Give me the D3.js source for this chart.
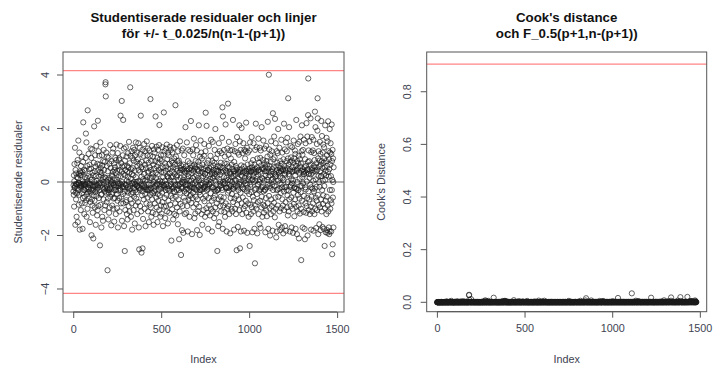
<!DOCTYPE html>
<html>
<head>
<meta charset="utf-8">
<script src="https://cdn.jsdelivr.net/npm/d3@7"></script>
<style>
  body { margin: 0; background: #fff; }
  text { font-family: "Liberation Sans", Arial, sans-serif; }
</style>
</head>
<body>
<svg id="chart" width="713" height="367"></svg>
<script>
// studentized residuals, in hundredths, index 1..1480 (20 per row)
var residHundredths = [
-35,-12,-48,25,-92,3,67,-22,-20,128,-15,-160,45,-40,-8,-65,32,-8,-130,18,
-42,-10,70,-25,82,-150,15,-30,155,-3,-5,-85,30,-48,110,-5,-178,25,40,-12,
35,-20,-105,60,-15,-10,25,-80,95,-42,-8,38,-175,2,-60,75,223,-30,-18,-5,
-12,45,-120,-30,-55,18,-78,-8,42,-10,90,181,-25,-68,148,-130,15,0,-45,60,
-100,268,-5,-38,22,-20,105,-62,-28,-7,48,-35,65,-5,-150,-12,18,-75,125,-40,
50,-28,90,-199,8,-65,-10,122,-88,35,-115,-15,-30,-211,25,-50,72,-18,208,0,
-70,40,-95,100,-15,-38,58,-160,22,-10,135,-52,-30,5,-25,-125,68,-12,-105,229,
-20,45,-90,115,-5,-60,20,98,-30,65,-3,-237,38,148,-85,-5,52,-48,25,-170,
35,-45,100,-10,-130,62,-22,15,-145,78,0,-65,120,-28,-8,45,-105,18,75,-35,
-22,-88,365,373,320,15,-40,110,2,-75,60,-18,95,-30,-330,-25,40,-62,8,-140,
90,-40,-30,-115,15,68,-95,-20,-25,138,-55,3,52,-10,-5,-162,78,0,-45,25,
-88,22,110,-40,38,-5,125,-100,-10,-62,70,-12,-148,45,-30,15,-60,55,90,-20,
35,-120,-30,82,-15,140,-45,8,-98,42,-5,-70,108,-170,18,-32,-5,60,-15,82,
-60,88,-110,-5,45,-25,135,-30,248,22,-80,-10,70,-55,38,303,-145,0,58,-20,
-15,100,-45,232,-80,30,-20,125,-165,-8,60,-35,-258,80,25,-105,45,-10,130,-75,
-12,-68,95,5,-120,38,60,-35,-140,-20,18,108,-40,55,-90,0,150,-28,35,-110,
70,-25,-15,354,-65,98,12,-130,48,-45,115,-80,-5,30,-178,90,-5,52,-22,128,
-40,25,-105,80,0,-55,120,-22,42,-155,-8,100,-30,-10,-88,148,18,-62,75,0,
-38,110,-15,-120,60,-15,85,-75,3,145,-18,45,-170,-22,-252,68,-30,128,2,-90,
38,-25,105,248,-10,-110,55,-264,20,75,-50,-15,120,-248,-35,48,-138,10,98,-10,
-65,30,142,-15,-20,-100,65,5,-45,115,-165,-28,52,-20,80,-80,8,152,-30,18,
100,-58,-25,125,-110,35,-30,72,40,-150,-10,118,-28,55,-85,15,98,-48,310,-22,
-95,45,-10,-130,78,15,-40,135,-65,32,-8,-115,95,20,-42,65,-160,0,122,-20,
50,-35,110,-80,-15,78,-30,245,-120,35,15,-58,132,-10,-95,58,-8,90,-150,28,
-45,120,2,-70,72,-30,45,138,-105,213,-8,-50,85,5,-130,52,-18,-88,100,-25,
38,-118,78,0,-40,130,-75,-12,55,-165,18,102,-12,35,260,-92,-20,-15,115,-60,
5,70,-135,42,-30,125,-10,-90,58,-8,-48,140,-110,22,85,-25,20,-155,48,110,
-70,15,100,-32,-15,-115,68,32,-28,132,-85,5,50,-52,120,-8,18,-219,78,-18,
40,-102,110,-25,-60,72,20,-140,55,-20,128,-35,2,88,-120,30,-38,65,-12,-80,
287,-10,-55,95,-125,50,20,-30,138,-95,25,78,-10,42,-158,115,8,-65,-15,80,
-30,-214,70,35,-110,-8,152,-40,52,-82,15,45,-273,-18,60,-25,118,-180,0,45,
-90,-22,125,-5,65,-190,8,48,-58,18,100,-35,40,-120,35,0,-70,205,-12,-28,
58,-115,-10,42,-42,148,12,-90,48,-25,-185,78,-10,120,22,-68,35,48,-30,5,
-130,70,-15,-52,115,-20,52,-48,228,5,-78,32,45,-20,-195,60,-8,-60,122,15,
-40,100,-95,42,-20,162,-25,65,-135,20,50,-5,55,-118,-28,78,-55,138,2,-82,
25,-30,118,-180,48,-10,-65,45,15,-110,75,-18,40,212,-92,5,-38,62,-198,-30,
95,-48,-10,155,-30,52,-10,110,15,-120,38,88,-28,-160,65,-5,35,-62,22,-20,
-105,48,98,-18,142,-72,-25,32,-130,30,-15,115,259,-52,0,58,-98,210,8,-30,
70,-115,-18,45,-25,45,-175,80,5,-60,135,-8,-88,52,-10,40,-125,28,12,98,
-42,0,158,-100,55,-20,-70,30,-185,35,78,-20,150,-110,15,62,-20,45,-60,22,
-135,72,-28,120,-50,30,-95,198,2,-35,88,-118,48,-10,42,-80,20,-30,-258,58,
105,-30,42,-165,38,-25,-65,145,10,-150,60,-15,115,28,-90,0,55,-55,72,-12,
-110,38,108,-70,-22,165,-30,279,52,-175,245,0,-88,40,-8,-58,120,18,-112,70,
-5,95,-130,45,5,215,-80,-22,-20,40,15,-185,68,35,-100,125,-22,58,-40,293,
8,-90,102,-32,150,-20,-120,55,38,-10,32,-192,118,5,-60,88,-15,30,-100,18,
65,-45,0,120,-110,48,-25,232,-75,22,40,-25,-18,-178,75,40,-62,115,8,-100,
30,142,-15,60,-120,5,45,-52,-255,52,168,-85,-15,-20,110,-168,38,32,-30,12,
-65,102,-8,212,-105,45,152,-248,0,38,-40,120,-185,25,62,-10,202,-80,22,50,
-120,-20,108,-58,35,-25,145,-100,2,58,-182,38,120,-28,15,-90,88,42,-5,115,
-70,5,222,-115,32,40,-35,128,-190,-10,65,-22,110,-80,48,12,-130,42,20,-45,
118,25,-239,52,148,-85,-18,-10,40,-120,40,70,-38,168,-95,8,55,-188,45,10,
-55,82,22,-110,145,0,-68,45,35,-175,65,-30,-304,120,5,-88,48,218,-25,38,
-100,20,130,-45,55,-192,88,-10,-75,42,28,-10,162,-120,45,72,-32,0,-158,128,
10,-70,90,38,-172,118,-28,62,-20,-95,205,-55,15,48,-130,52,12,-18,82,-85,
155,-35,48,-115,70,5,125,-90,-28,-30,40,-188,55,25,-60,135,-105,40,78,-20,
-128,65,8,95,-80,225,-10,50,-175,18,38,401,-52,122,-15,-98,60,25,-200,102,
-22,75,-120,38,152,-65,8,115,-90,48,-10,40,-182,12,257,-30,85,-110,55,0,
-78,170,32,-15,92,-132,236,20,-58,28,145,-100,22,-207,58,-30,115,-185,45,72,
-28,108,-88,5,198,-55,62,-160,35,38,-25,128,-110,-5,52,-180,78,15,-42,40,
-98,42,158,-10,68,-170,-20,110,-65,15,45,-88,48,-192,85,8,-35,218,-105,32,
60,-20,122,-165,28,45,-75,40,148,-182,-18,78,-30,115,-95,52,165,-50,0,-125,
88,313,-32,65,-110,30,205,-65,22,42,-185,48,75,-18,135,-90,-12,92,-58,10,
-170,80,38,-5,130,-100,55,40,-190,5,72,-40,155,-82,-22,88,-128,45,-20,118,
-65,25,105,-175,60,-25,-92,232,40,-25,45,-195,78,0,-110,50,142,-48,70,-30,
98,-88,-211,35,150,-62,12,85,-118,58,-15,170,-38,70,-100,-292,42,115,-15,212,
-70,18,102,-170,48,120,-5,38,-112,30,158,-52,28,40,-175,55,-214,85,-20,-80,
145,-28,60,-115,35,220,-90,2,45,-60,170,-200,48,75,250,387,-35,118,-105,30,
78,-65,152,15,-120,40,-10,65,238,-92,28,-178,112,-20,-55,168,52,-110,45,-25,
35,118,-80,5,158,-182,60,-35,108,42,-120,82,-25,263,-100,55,205,-58,10,40,
-172,70,-18,-70,142,-105,45,192,313,238,-48,88,-195,22,115,-85,58,0,-158,80,
-18,150,-95,40,105,-180,65,22,-65,228,22,-110,78,172,-30,52,-168,110,5,-82,
140,-50,72,-175,30,130,-15,88,-239,55,-98,212,8,-70,42,-188,78,25,-120,165,
-55,100,-180,60,-190,152,-88,38,227,-110,115,20,-170,85,-195,48,-185,198,-30,110,
-100,65,145,-68,22,-185,105,-80,215,-30,78,-270,8,120,-233,-58,88,0,-170,55
];

// Cook's distance, in units of 1e-4, same order
var cookTenThousandths = [
1,0,4,1,8,0,3,2,0,9,0,15,4,1,1,5,2,0,9,0,
2,1,7,0,4,18,0,3,5,1,0,7,2,1,11,0,4,0,3,13,
1,0,15,5,3,0,2,7,9,1,0,4,19,0,2,6,36,1,1,5,
0,2,11,1,2,8,4,0,1,6,13,18,0,3,4,20,0,2,1,6,
9,55,0,2,3,0,10,5,0,14,1,1,5,0,8,2,0,3,13,1,
4,0,8,24,1,2,0,11,4,2,12,0,3,30,0,2,7,5,32,0,
3,1,9,9,0,1,4,14,2,0,15,4,1,6,2,17,3,0,6,38,
0,3,11,7,1,5,0,11,2,5,1,42,2,12,7,0,4,1,9,16,
1,3,14,0,9,5,0,2,19,8,0,2,11,0,5,3,13,1,6,1,
2,8,270,285,95,0,4,9,1,12,5,0,13,2,120,0,7,5,3,16,
8,1,4,13,0,11,5,2,0,16,9,1,5,3,0,18,8,2,1,12,
4,0,9,7,3,0,13,11,1,2,6,0,18,4,1,12,6,2,8,0,
3,13,1,7,4,14,1,0,9,5,1,3,11,20,0,2,6,13,0,4,
2,8,11,1,5,0,15,5,48,2,8,0,11,2,3,75,15,1,7,4,
0,9,1,40,7,3,0,13,19,1,5,2,55,8,0,10,4,0,14,3,
1,5,10,0,13,3,7,1,16,2,0,12,4,5,8,1,16,2,3,11,
6,0,2,175,5,9,0,14,4,1,12,7,1,3,19,8,0,5,3,14,
1,2,10,7,0,4,13,0,4,17,1,9,2,0,8,16,1,5,7,0,
3,11,2,13,5,0,9,6,1,17,1,4,20,2,50,7,1,14,0,8,
3,2,10,48,1,11,5,56,2,7,4,0,13,50,1,4,16,1,9,0,
5,3,15,1,0,9,6,1,3,12,19,2,5,0,8,7,0,16,2,1,
9,4,0,13,11,2,1,7,4,16,1,12,2,5,7,0,11,4,80,2,
9,4,0,14,8,1,1,15,5,3,0,12,10,2,3,6,18,1,13,0,
5,2,11,7,2,8,1,46,13,3,0,4,15,1,9,5,0,9,16,3,
1,13,0,6,7,2,4,16,10,34,1,4,9,0,14,5,2,8,11,0,
3,12,8,1,3,14,6,2,5,19,0,10,1,3,52,8,2,0,12,5,
1,7,15,4,1,13,0,8,5,1,4,16,11,2,9,2,0,17,4,11,
6,1,9,2,0,12,7,3,0,15,7,1,5,4,13,0,2,33,8,1,
4,10,11,0,5,7,2,16,5,0,14,2,1,9,13,3,1,6,0,7,
65,1,4,10,13,5,0,2,16,9,2,8,1,4,18,12,0,5,2,8,
1,34,7,3,11,1,14,3,5,7,0,10,60,2,6,2,12,14,0,4,
8,2,13,1,6,18,1,9,4,0,11,2,4,13,7,1,6,16,2,0,
5,12,1,10,3,14,0,8,4,2,19,8,1,13,0,5,3,11,2,0,
14,7,2,4,12,0,5,11,16,1,7,3,9,1,17,6,1,5,13,0,
3,9,9,4,0,15,2,6,15,2,11,1,5,12,0,8,4,16,1,7,
2,1,12,16,4,0,5,10,2,11,7,0,4,14,8,1,3,6,19,1,
9,4,1,15,7,5,1,11,0,13,3,8,2,18,6,1,13,5,2,0,
10,4,9,1,16,6,0,7,14,3,0,12,55,4,1,5,9,14,0,2,
7,12,2,10,0,4,17,8,1,5,15,1,8,5,1,13,13,3,0,9,
3,1,14,9,5,0,6,11,19,3,8,1,16,11,2,6,0,10,5,2,
15,7,0,13,4,3,9,15,1,1,9,12,4,0,11,7,2,1,58,5,
10,2,4,13,8,0,5,14,1,16,6,0,12,3,8,1,13,4,7,1,
11,3,11,6,0,16,2,70,5,17,155,1,8,9,0,4,13,2,11,7,
1,9,14,4,1,16,7,2,1,11,0,19,7,3,9,13,0,5,3,70,
1,8,10,2,15,0,13,5,8,1,3,16,12,1,5,9,0,14,9,2,
6,3,1,13,11,4,0,16,6,2,9,2,0,18,7,4,5,12,0,9,
3,14,1,6,13,1,9,4,52,5,16,7,2,0,11,16,3,7,2,0,
5,10,1,34,10,4,14,50,1,8,3,13,19,2,6,1,17,7,0,5,
13,2,11,4,7,0,15,9,1,5,16,3,13,2,0,8,9,4,1,12,
6,1,16,12,3,8,2,14,18,1,6,0,11,7,4,0,14,10,2,3,
12,0,45,5,15,7,2,1,9,13,4,7,3,16,9,1,5,19,12,0,
4,8,2,11,13,1,5,10,3,15,6,1,165,13,1,8,4,16,2,8,
9,0,14,3,5,18,9,1,6,11,3,1,17,13,4,7,2,1,11,14,
1,6,9,3,16,12,0,6,2,9,15,4,0,11,14,5,2,1,8,7,
16,2,4,12,7,1,13,8,3,1,11,18,5,0,5,15,10,4,8,1,
14,6,1,10,7,16,1,5,15,2,9,340,4,13,0,9,6,2,19,11,
0,7,13,3,16,5,1,12,8,4,0,14,16,2,60,2,9,11,5,1,
7,13,3,1,10,15,45,0,4,8,16,9,2,30,5,1,12,17,4,7,
2,11,8,1,15,4,6,13,3,9,0,14,11,1,5,16,8,2,3,13,
9,4,16,1,7,14,2,11,5,0,13,8,4,18,9,1,2,16,10,3,
6,1,13,12,0,10,6,4,15,16,2,8,1,12,9,5,16,4,1,13,
9,175,2,6,11,3,14,5,0,11,17,4,7,1,15,8,2,10,4,0,
13,8,3,1,14,9,5,11,18,1,7,3,16,7,2,9,14,4,0,12,
5,2,10,15,6,0,8,15,4,2,12,19,8,1,11,5,13,3,7,1,
11,8,35,3,16,5,2,9,12,5,0,14,3,7,9,75,4,12,1,16,
6,2,10,14,4,13,1,8,11,3,15,4,0,11,17,5,38,9,2,7,
13,2,6,12,3,16,8,1,10,5,14,18,4,7,60,185,2,12,10,1,
8,5,15,2,13,9,1,6,16,8,3,16,11,0,4,14,5,11,9,2,
3,12,7,1,16,16,6,2,11,4,13,8,0,65,9,5,15,4,1,11,
15,7,2,6,13,10,4,16,195,50,3,9,19,2,12,7,5,1,12,8,
1,16,9,4,10,16,6,0,5,14,2,11,8,17,2,5,14,11,1,7,
13,4,7,15,3,14,1,9,205,5,9,16,1,6,11,18,8,2,13,13,
4,9,16,6,45,15,8,3,40,11,12,0,14,9,48,4,19,16,2,11,
9,6,13,5,2,17,10,7,16,2,8,70,1,13,50,4,9,1,14,5
];

var residTicks = [-4, -2, 0, 2, 4];
var cookTicks = [0, 0.2, 0.4, 0.6, 0.8];
var indexTicks = [0, 500, 1000, 1500];
var tCrit = 4.16;      // +/- t_0.025/n(n-1-(p+1))
var fCrit = 0.905;     // F_0.5(p+1, n-(p+1))

var resid = residHundredths.map(function (v, i) { return { i: i + 1, v: v / 100 }; });
var cook = cookTenThousandths.map(function (v, i) { return { i: i + 1, v: v / 10000 }; });

var svg = d3.select('#chart');
var ink = '#3d4250';
var n = resid.length;
var pad = (n - 1) * 0.04;

function panel(opts) {
  var g = svg.append('g');
  var x = d3.scaleLinear().domain([1 - pad, n + pad]).range([opts.left, opts.right]);
  var y = d3.scaleLinear().domain(opts.ydomain).range([opts.bottom, opts.top]);

  // axes, R style: ticks outside, line only between first and last tick
  var xa = g.append('g').attr('transform', 'translate(0,' + opts.bottom + ')')
    .call(d3.axisBottom(x).tickValues(indexTicks).tickSize(6).tickPadding(7).tickFormat(d3.format('d')));
  var ya = g.append('g').attr('transform', 'translate(' + opts.left + ',0)')
    .call(d3.axisLeft(y).tickValues(opts.yticks).tickSize(6).tickFormat(opts.yfmt));
  [xa, ya].forEach(function (a) {
    a.select('.domain').remove();
    a.selectAll('line').attr('stroke', '#555');
    a.selectAll('text').attr('fill', ink).style('font-size', '10.8px')
      .style('font-family', '"Liberation Sans", Arial, sans-serif');
  });
  ya.selectAll('text')
    .attr('x', null).attr('dy', null)
    .attr('text-anchor', 'middle')
    .attr('transform', function (d) { return 'translate(' + (opts.ytickx - opts.left) + ',' + y(d) + ') rotate(-90)'; })
    .attr('y', 0).attr('dy', '0.35em');
  ya.selectAll('.tick').attr('transform', null);
  ya.selectAll('.tick line').attr('y1', function (d) { return y(d); }).attr('y2', function (d) { return y(d); });

  g.append('line')
    .attr('x1', x(indexTicks[0])).attr('x2', x(indexTicks[indexTicks.length - 1]))
    .attr('y1', opts.bottom).attr('y2', opts.bottom).attr('stroke', '#555');

  // reference lines
  opts.hlines.forEach(function (h) {
    g.append('line').attr('x1', opts.left).attr('x2', opts.right)
      .attr('y1', y(h.v)).attr('y2', y(h.v))
      .attr('stroke', h.color).attr('stroke-width', h.w);
  });

  // points
  g.append('g').selectAll('circle')
    .data(opts.data)
    .enter()
    .append('circle')
    .attr('cx', function (d) { return x(d.i); })
    .attr('cy', function (d) { return y(d.v); })
    .attr('r', 2.6)
    .attr('fill', 'none')
    .attr('stroke', '#1a1a1a')
    .attr('stroke-opacity', 0.8)
    .attr('stroke-width', 0.85);

  // box
  g.append('rect').attr('x', opts.left).attr('y', opts.top)
    .attr('width', opts.right - opts.left).attr('height', opts.bottom - opts.top)
    .attr('fill', 'none').attr('stroke', '#555').attr('stroke-width', 1);

  // titles and labels
  var cx = (opts.left + opts.right) / 2;
  opts.title.forEach(function (t, k) {
    g.append('text').attr('x', cx).attr('y', 22 + k * 15.5)
      .attr('text-anchor', 'middle').style('font-size', '13.3px').style('font-weight', 'bold')
      .attr('fill', '#111').text(t);
  });
  g.append('text').attr('x', cx).attr('y', 363)
    .attr('text-anchor', 'middle').style('font-size', '10.8px').attr('fill', ink).text('Index');
  g.append('text')
    .attr('transform', 'translate(' + opts.ylabx + ',' + ((opts.top + opts.bottom) / 2) + ') rotate(-90)')
    .attr('text-anchor', 'middle').attr('dy', '0.35em')
    .style('font-size', '10.8px').attr('fill', ink).text(opts.ylab);
}

panel({
  left: 63, right: 344, top: 52, bottom: 312,
  ydomain: [-4.86, 4.86], yticks: residTicks, yfmt: d3.format('d'),
  ytickx: 45, ylabx: 18,
  data: resid,
  hlines: [
    { v: 0, color: '#666', w: 1 },
    { v: tCrit, color: '#ff8484', w: 1.3 },
    { v: -tCrit, color: '#ff8484', w: 1.3 }
  ],
  title: ['Studentiserade residualer och linjer', 'för +/- t_0.025/n(n-1-(p+1))'],
  ylab: 'Studentiserade residualer'
});

panel({
  left: 426.7, right: 706.7, top: 52, bottom: 311.7,
  ydomain: [-0.0357, 0.951], yticks: cookTicks, yfmt: d3.format('.1f'),
  ytickx: 407, ylabx: 381,
  data: cook,
  hlines: [
    { v: fCrit, color: '#ff8484', w: 1.3 }
  ],
  title: ["Cook's distance", 'och F_0.5(p+1,n-(p+1))'],
  ylab: "Cook's Distance"
});
</script>
</body>
</html>
